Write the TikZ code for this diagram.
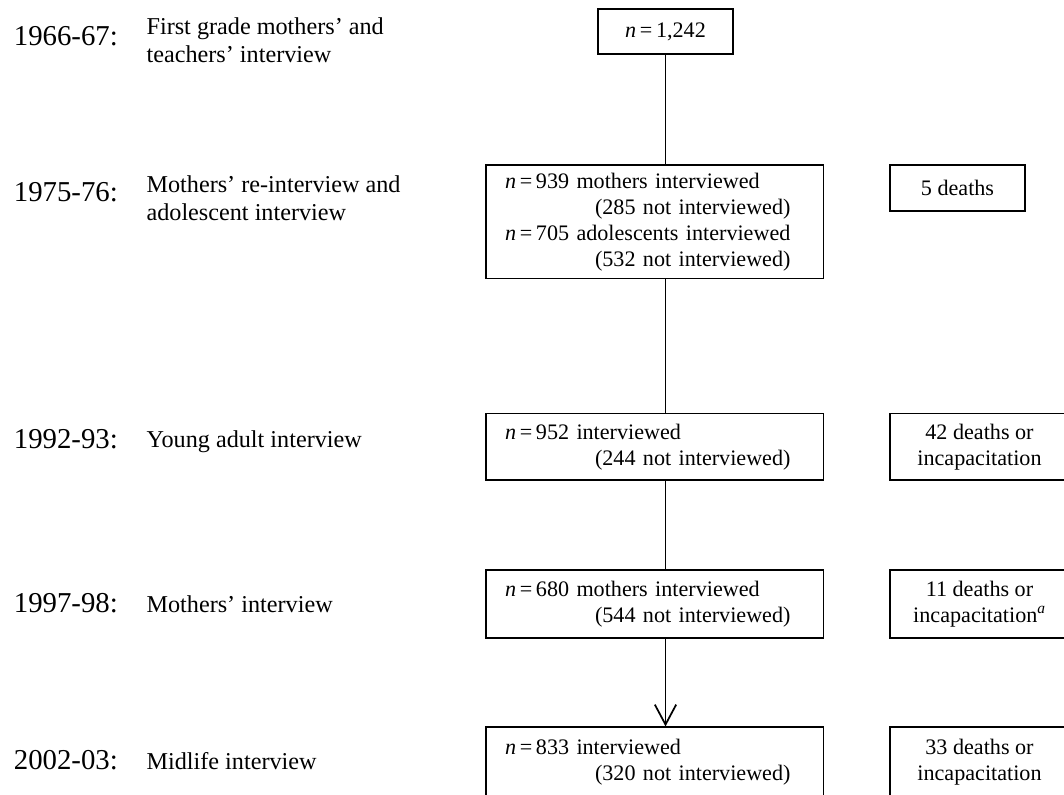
\documentclass[tikz,border=0pt]{standalone}
\usepackage{fontspec}
\setmainfont{Liberation Serif}
\usetikzlibrary{arrows.meta,positioning}

\begin{document}
\begin{tikzpicture}[
		x=0.75pt, y=-0.75pt,
		line width=1.3pt,
		stage/.style={draw, align=left, text width=224.5pt, inner xsep=14.25pt, inner ysep=0pt,
				font=\fontsize{16.6}{19.5}\selectfont},
		loss/.style={draw, align=center, inner sep=0pt, font=\fontsize{16.6}{19.5}\selectfont},
		yearlbl/.style={anchor=base west, inner sep=0pt, font=\fontsize{21.6}{26}\selectfont},
		wavelbl/.style={anchor=base west, align=left, inner sep=0pt, font=\fontsize{18.15}{20.8}\selectfont},
	]
	\useasboundingbox (0,0) rectangle (1064,794);
	\clip (0,0) rectangle (1064,794);

	\node[loss, minimum width=101.7pt, minimum height=33.75pt] (n0) at (665.5,31.5) {\textit{n}\,=\,1,242};
	\node[stage, minimum height=85pt] (w75) at (654.7,221.7) {\textit{n}\,=\,939 mothers interviewed\\
		\hspace*{67.5pt}(285 not interviewed)\\\textit{n}\,=\,705 adolescents interviewed\\
		\hspace*{67.5pt}(532 not interviewed)};
	\node[stage, minimum height=50pt] (w92) at (654.7,446.7) {\textit{n}\,=\,952 interviewed\\
		\hspace*{67.5pt}(244 not interviewed)};
	\node[stage, minimum height=50.8pt] (w97) at (654.7,603.8) {\textit{n}\,=\,680 mothers interviewed\\
		\hspace*{67.5pt}(544 not interviewed)};
	\node[stage, minimum height=52.5pt] (w02) at (654.7,762.3) {\textit{n}\,=\,833 interviewed\\
		\hspace*{67.5pt}(320 not interviewed)};

	\node[loss, minimum width=101.25pt, minimum height=34.5pt] (d75) at (957.5,188) {5 deaths};
	\node[loss, minimum width=134.25pt, minimum height=50pt] (d92) at (979.5,446.7) {42 deaths or\\incapacitation};
	\node[loss, minimum width=134.25pt, minimum height=50.8pt] (d97) at (979.5,603.8) {11 deaths or\\incapacitation\textsuperscript{\textit{a}}};
	\node[loss, minimum width=134.25pt, minimum height=52.5pt] (d02) at (979.5,762.3) {33 deaths or\\incapacitation};

	\draw (n0.south) -- (n0.south |- w75.north);
	\draw (n0.south |- w75.south) -- (n0.south |- w92.north);
	\draw (n0.south |- w92.south) -- (n0.south |- w97.north);
	\draw[-{Straight Barb[length=15pt,width=16pt]}] (n0.south |- w97.south) -- (n0.south |- w02.north);

	\node[yearlbl] (y66) at (13,45.7) {1966-67:};
	\node[wavelbl] (t66) at (145.7,62.7) {First grade mothers' and\\teachers' interview};
	\node[yearlbl] (y75) at (13,201.7) {1975-76:};
	\node[wavelbl] (t75) at (145.7,220) {Mothers' re-interview and\\adolescent interview};
	\node[yearlbl] (y92) at (13,448) {1992-93:};
	\node[wavelbl] (t92) at (145.7,447) {Young adult interview};
	\node[yearlbl] (y97) at (13,612.7) {1997-98:};
	\node[wavelbl] (t97) at (145.7,612) {Mothers' interview};
	\node[yearlbl] (y02) at (13,769.3) {2002-03:};
	\node[wavelbl] (t02) at (145.7,769) {Midlife interview};

\end{tikzpicture}
\end{document}
